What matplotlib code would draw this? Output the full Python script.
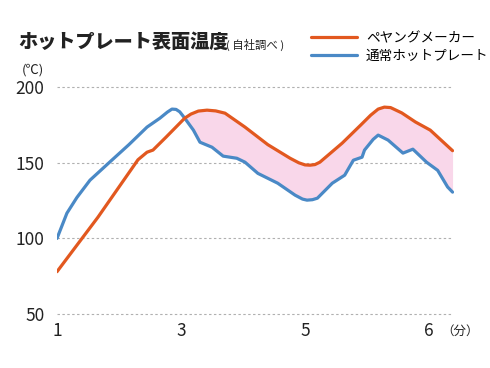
import numpy as np
import matplotlib
matplotlib.use("Agg")
import matplotlib.pyplot as plt

plt.rcParams['font.family'] = ['Noto Sans CJK JP', 'DejaVu Sans']

# time axis: evenly spaced tick positions labelled 1, 3, 5, 6 (min)
tick_pos = [0, 1, 2, 3]
tick_labels = ['1', '3', '5', '6']

# ペヤングメーカー
peyoung_x = [0, 0.33, 0.653, 0.726, 0.774, 0.88, 1.0, 1.03, 1.08, 1.14, 1.21, 1.28, 1.355,
             1.516, 1.7, 1.88, 1.95, 2.0, 2.04, 2.08, 2.12, 2.3, 2.45, 2.53, 2.59, 2.64, 2.69,
             2.78, 2.89, 3.01, 3.19]
peyoung_y = [78, 114, 152, 157, 158.4, 167, 177, 179.5, 182.2, 184.2, 184.8, 184.3, 182.8,
             173.6, 162, 153, 150, 148.6, 148.4, 148.8, 150.4, 163, 175, 181.5, 185.5, 186.8, 186.5,
             183, 177, 171.6, 158]

# 通常ホットプレート
normal_x = [0, 0.08, 0.16, 0.266, 0.427, 0.58, 0.726, 0.83, 0.89, 0.927, 0.96, 0.99, 1.03, 1.10,
            1.153, 1.25, 1.34, 1.45, 1.516, 1.62, 1.78, 1.92, 1.98, 2.016, 2.06, 2.10, 2.22, 2.32,
            2.39, 2.46, 2.48, 2.55, 2.59, 2.67, 2.79, 2.87, 2.98, 3.07, 3.15, 3.19]
normal_y = [100, 116.7, 127, 138.5, 150.6, 162, 173.6, 179.5, 183.5, 185.5, 185.3, 183.7, 179.5, 171.6,
            163.6, 160.3, 154.4, 153, 150.4, 143, 136.5, 128.6, 126, 125.3, 125.6, 126.6, 136.5, 141.8,
            151.7, 153.7, 158.4, 165.5, 168.3, 165, 156.4, 159, 150.4, 145, 134, 130.6]

orange = '#e2581f'
blue = '#4a89c6'
pink = '#f9d7ea'

W, H = 490, 368
fig = plt.figure(figsize=(W / 100, H / 100), dpi=100)

# axes placed so x 0..3.2 -> px 57..453, y 45..205 -> px 322..80
ax = fig.add_axes([57 / W, 1 - 321.6 / H, 396.8 / W, 242 / H])
ax.set_xlim(0, 3.2)
ax.set_ylim(45, 205)

grid = np.linspace(0, 3.19, 600)
o = np.interp(grid, peyoung_x, peyoung_y)
b = np.interp(grid, normal_x, normal_y)
ax.fill_between(grid, b, o, where=o > b, interpolate=True, color=pink, lw=0, zorder=1)

for yv in [50, 100, 150, 200]:
    ax.plot([0, 3.19], [yv, yv], color='#b0b0b0', lw=0.8, ls=(0, (2.2, 2.2)), zorder=0)

ax.plot(normal_x, normal_y, color=blue, lw=2.3, solid_capstyle='round',
        solid_joinstyle='round', zorder=3, label='通常ホットプレート')
ax.plot(peyoung_x, peyoung_y, color=orange, lw=2.3, solid_capstyle='round',
        solid_joinstyle='round', zorder=4, label='ペヤングメーカー')

for s in ax.spines.values():
    s.set_visible(False)
ax.set_xticks(tick_pos)
ax.set_xticklabels(tick_labels)
ax.set_yticks([50, 100, 150, 200])
ax.tick_params(length=0, labelsize=12.5, colors='#222222')
ax.tick_params(axis='y', pad=9)
ax.tick_params(axis='x', pad=0)

# title
fig.text(18 / W, 1 - 42 / H, 'ホットプレート表面温度', fontsize=13.8, fontweight='heavy',
         va='center', ha='left', color='#222222')
fig.text(226 / W, 1 - 45 / H, '( 自社調べ )', fontsize=8.2, va='center', ha='left',
         color='#222222')
fig.text(33 / W, 1 - 70 / H, '(℃)', fontsize=9.5, va='center', ha='center', color='#222222')
fig.text(460 / W, 1 - 331 / H, '（分）', fontsize=9, va='center', ha='center', color='#222222')

h, l = ax.get_legend_handles_labels()
fig.legend(h[::-1], l[::-1], loc='upper left', bbox_to_anchor=(311 / W, 1 - 31 / H),
           frameon=False, borderpad=0, borderaxespad=0, fontsize=9.8,
           handlelength=3.4, handletextpad=0.65, labelspacing=0.3)

fig.savefig('out.png', dpi=100)
